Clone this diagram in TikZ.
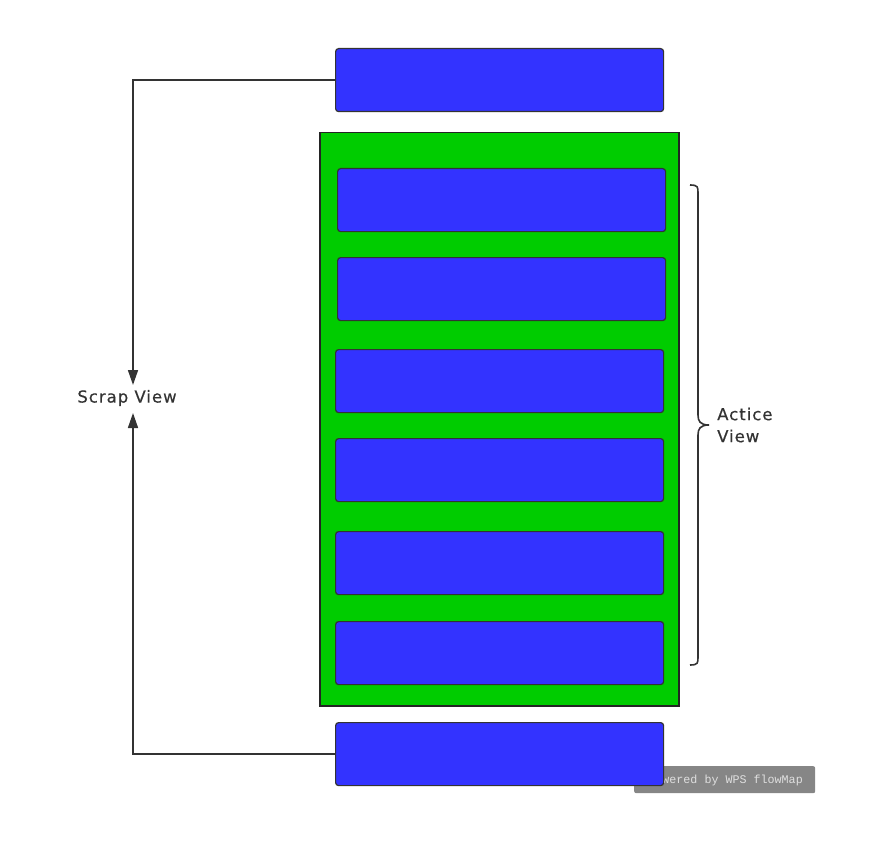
\documentclass[tikz,border=0pt]{standalone}
\usepackage{fontspec}
\setmainfont{DejaVu Sans}
\newfontfamily\lblfont[LetterSpace=6,FakeBold=0.4]{DejaVu Sans}
\newfontfamily\wmfont{Liberation Mono}
\usetikzlibrary{arrows.meta}
\definecolor{boxblue}{HTML}{3333FF}
\definecolor{boxgreen}{HTML}{00CC00}
\definecolor{linegray}{HTML}{333333}
\begin{document}
\begin{tikzpicture}[x=1pt,y=-1pt,
  bluebox/.style={draw=linegray,line width=1.2pt,fill=boxblue,rounded corners=3pt,minimum width=328pt,minimum height=63pt,inner sep=0pt},
  conn/.style={draw=linegray,line width=1.6pt,-{Triangle[length=15pt,width=10pt]}},
  lbl/.style={font=\lblfont\fontsize{16.5}{22}\selectfont,text=linegray,inner sep=0pt}]
\useasboundingbox (0,0) rectangle (876,848);
% watermark
\node[fill=gray!95,rounded corners=2pt,minimum width=181pt,minimum height=27pt,inner sep=0pt,anchor=north west] (wm) at (634,766) {};
\node[text=gray!25,font=\wmfont\fontsize{11.7}{13}\selectfont,anchor=east,inner sep=0pt] (wmt) at (803,780) {Powered by WPS flowMap};
% green container
\node[draw=linegray!70!black,line width=1.5pt,fill=boxgreen,minimum width=359pt,minimum height=573pt,inner sep=0pt,anchor=north west] (green) at (319,132) {};
% boxes
\node[bluebox,anchor=north west] (top) at (335,48) {};
\node[bluebox,anchor=north west] (b1) at (337,168) {};
\node[bluebox,anchor=north west] (b2) at (337,257) {};
\node[bluebox,anchor=north west] (b3) at (335,349) {};
\node[bluebox,anchor=north west] (b4) at (335,438) {};
\node[bluebox,anchor=north west] (b5) at (335,531) {};
\node[bluebox,anchor=north west] (b6) at (335,621) {};
\node[bluebox,anchor=north west] (bot) at (335,722) {};
% labels
\node[lbl] (scrap) at (127,398) {Scrap View};
\node[lbl,align=left,anchor=west] (active) at (717,425) {Actice\\View};
% connectors
\coordinate (tipa) at (133,385);
\coordinate (tipb) at (133,413);
\draw[conn] (top.west) -| (tipa);
\draw[conn] (bot.west) -| (tipb);
% brace
\coordinate (bt) at (690,185);
\coordinate (bb) at (690,665);
\coordinate (bm) at (709,425);
\draw[linegray,line width=1.6pt] (bt) .. controls (698,185) and (698,187) .. (698,193)
  -- (698,415) .. controls (698,421) and (700,425) .. (bm)
  .. controls (700,425) and (698,429) .. (698,435)
  -- (698,657) .. controls (698,663) and (698,665) .. (bb);
\end{tikzpicture}
\end{document}
